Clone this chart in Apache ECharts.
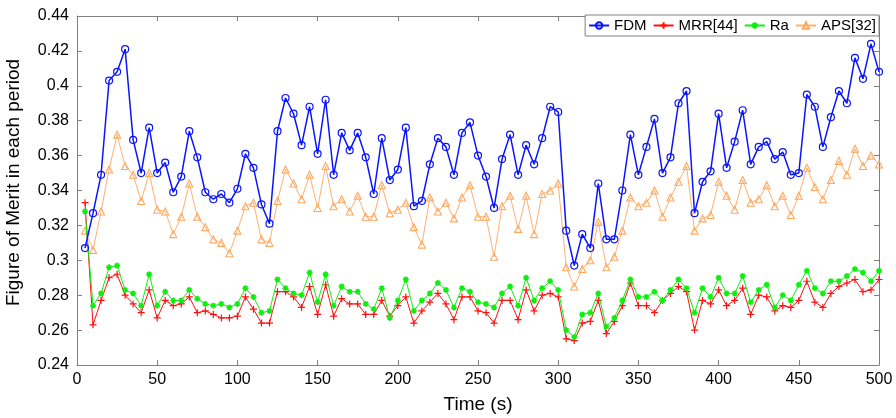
<!DOCTYPE html>
<html><head><meta charset="utf-8">
<script src="https://cdn.jsdelivr.net/npm/echarts@6/dist/echarts.min.js"></script>
<style>html,body{margin:0;padding:0;background:#fff}#c{width:896px;height:418px}</style>
</head><body><div id="c"></div>
<script>
const times = [];
for (let t = 5; t <= 500; t += 5) times.push(t);
const xTicks = [0,50,100,150,200,250,300,350,400,450,500];
const yTicks = [0.24,0.26,0.28,0.3,0.32,0.34,0.36,0.38,0.4,0.42,0.44];

const fdm = [0.307,0.327,0.349,0.403,0.408,0.421,0.369,0.350,0.376,0.350,
0.356,0.339,0.348,0.374,0.359,0.339,0.335,0.338,0.333,0.341,
0.361,0.353,0.332,0.321,0.374,0.393,0.384,0.366,0.388,0.361,
0.392,0.349,0.373,0.363,0.373,0.359,0.338,0.370,0.346,0.352,
0.376,0.331,0.334,0.355,0.370,0.365,0.349,0.373,0.379,0.360,
0.348,0.330,0.358,0.372,0.349,0.366,0.355,0.370,0.388,0.385,
0.317,0.297,0.315,0.307,0.344,0.312,0.312,0.340,0.372,0.349,
0.365,0.381,0.350,0.359,0.390,0.397,0.327,0.345,0.351,0.384,
0.353,0.368,0.386,0.355,0.365,0.368,0.358,0.362,0.349,0.350,
0.395,0.388,0.365,0.382,0.397,0.390,0.416,0.404,0.424,0.408];

const mrr = [0.333,0.263,0.277,0.290,0.292,0.280,0.275,0.270,0.283,0.267,
0.277,0.274,0.275,0.279,0.270,0.271,0.269,0.267,0.267,0.268,
0.279,0.272,0.264,0.264,0.282,0.282,0.279,0.273,0.285,0.269,
0.286,0.268,0.278,0.275,0.275,0.269,0.269,0.277,0.268,0.274,
0.279,0.264,0.271,0.276,0.281,0.275,0.266,0.279,0.279,0.271,
0.270,0.264,0.277,0.277,0.266,0.283,0.271,0.280,0.281,0.279,
0.255,0.254,0.264,0.265,0.277,0.258,0.265,0.274,0.287,0.274,
0.274,0.270,0.277,0.281,0.285,0.282,0.260,0.277,0.275,0.283,
0.274,0.277,0.284,0.269,0.280,0.279,0.271,0.274,0.273,0.277,
0.288,0.276,0.273,0.281,0.285,0.287,0.289,0.282,0.283,0.289];

const ra = [0.328,0.274,0.281,0.296,0.297,0.283,0.281,0.274,0.292,0.274,
0.282,0.277,0.277,0.283,0.278,0.275,0.274,0.275,0.273,0.275,
0.284,0.279,0.270,0.271,0.289,0.284,0.281,0.280,0.293,0.276,
0.292,0.274,0.285,0.282,0.282,0.275,0.272,0.284,0.267,0.277,
0.289,0.271,0.277,0.281,0.287,0.283,0.273,0.284,0.282,0.276,
0.275,0.273,0.281,0.285,0.274,0.290,0.277,0.284,0.288,0.283,
0.260,0.256,0.269,0.270,0.281,0.262,0.267,0.277,0.289,0.279,
0.279,0.282,0.277,0.283,0.289,0.284,0.270,0.284,0.279,0.290,
0.281,0.281,0.291,0.276,0.283,0.286,0.273,0.280,0.277,0.286,
0.294,0.284,0.281,0.288,0.288,0.291,0.295,0.293,0.288,0.294];

const aps = [0.317,0.306,0.328,0.352,0.372,0.354,0.349,0.334,0.350,0.329,
0.328,0.315,0.325,0.344,0.325,0.319,0.312,0.310,0.304,0.317,
0.331,0.333,0.312,0.310,0.334,0.352,0.344,0.335,0.349,0.330,
0.354,0.331,0.335,0.328,0.337,0.325,0.325,0.343,0.327,0.329,
0.333,0.319,0.309,0.336,0.328,0.333,0.324,0.336,0.343,0.325,
0.325,0.302,0.331,0.337,0.318,0.337,0.315,0.338,0.340,0.344,
0.296,0.285,0.295,0.300,0.322,0.296,0.302,0.317,0.336,0.331,
0.333,0.340,0.325,0.336,0.345,0.354,0.317,0.324,0.326,0.345,
0.337,0.329,0.346,0.333,0.335,0.343,0.331,0.337,0.326,0.337,
0.353,0.342,0.335,0.346,0.357,0.349,0.364,0.354,0.360,0.355];

function pairs(arr){ return times.map((t,i)=>[t,arr[i]]); }

const FONT = 'Liberation Sans, Arial, sans-serif';
const plusPath = 'path://M5,0 L5,10 M0,5 L10,5';
const starPath = 'path://M5,0 L5,10 M0,5 L10,5 M1.5,1.5 L8.5,8.5 M8.5,1.5 L1.5,8.5';

const axisGray = '#808080';
const chart = echarts.init(document.getElementById('c'), null, {renderer:'canvas'});
const baseX = {
  type:'value', min:0, max:500, interval:50,
  axisLine:{show:true, onZero:false, lineStyle:{color:axisGray, width:1}},
  axisTick:{show:true, inside:true, length:5, lineStyle:{color:axisGray}},
  splitLine:{show:false}
};
const baseY = {
  type:'value', min:0.24, max:0.44, interval:0.02,
  axisLine:{show:true, onZero:false, lineStyle:{color:axisGray, width:1}},
  axisTick:{show:true, inside:true, length:5, lineStyle:{color:axisGray}},
  splitLine:{show:false}
};
chart.setOption({
  animation:false,
  backgroundColor:'#fff',
  grid:{left:77, right:17, top:16, bottom:53, containLabel:false, outerBoundsMode:'none'},
  xAxis:[
    Object.assign({}, baseX, {position:'bottom',
      name:'Time (s)', nameLocation:'middle', nameGap:30,
      nameTextStyle:{fontFamily:FONT, fontSize:19, color:'#000'},
      axisLabel:{show:true, margin:7, fontFamily:FONT, fontSize:16, color:'#000'}}),
    Object.assign({}, baseX, {position:'top', axisLabel:{show:false}})
  ],
  yAxis:[
    Object.assign({}, baseY, {position:'left',
      name:'Figure of Merit in each period', nameLocation:'middle', nameGap:54,
      nameTextStyle:{fontFamily:FONT, fontSize:19, color:'#000', padding:[0,0,0,16]},
      axisLabel:{show:true, margin:8, fontFamily:FONT, fontSize:16, color:'#000'}}),
    Object.assign({}, baseY, {position:'right', axisLabel:{show:false}})
  ],
  legend:{
    right:17, top:15, orient:'horizontal',
    backgroundColor:'#fff', borderColor:axisGray, borderWidth:1,
    padding:[3,3,3,3], itemGap:6, itemWidth:20, itemHeight:8,
    textStyle:{fontFamily:FONT, fontSize:15, color:'#000'},
    data:['FDM','MRR[44]','Ra','APS[32]']
  },
  series:[
    {name:'FDM', type:'line', data:pairs(fdm), symbol:'circle', symbolSize:7,
     lineStyle:{color:'#0a14ff', width:1.5},
     itemStyle:{color:'rgba(255,255,255,0)', borderColor:'#0a14ff', borderWidth:1.2}, z:5},
    {name:'MRR[44]', type:'line', data:pairs(mrr), symbol:plusPath, symbolSize:7,
     lineStyle:{color:'#ff1010', width:1},
     itemStyle:{color:'#ff1010', borderColor:'#ff1010', borderWidth:1.2}, z:3},
    {name:'Ra', type:'line', data:pairs(ra), symbol:starPath, symbolSize:6,
     lineStyle:{color:'#10ee10', width:1},
     itemStyle:{color:'#10ee10', borderColor:'#10ee10', borderWidth:1.5}, z:4},
    {name:'APS[32]', type:'line', data:pairs(aps), symbol:'triangle', symbolSize:7,
     lineStyle:{color:'#ffb070', width:1},
     itemStyle:{color:'rgba(255,255,255,0)', borderColor:'#ffa860', borderWidth:1.1}, z:2}
  ]
});
</script></body></html>
